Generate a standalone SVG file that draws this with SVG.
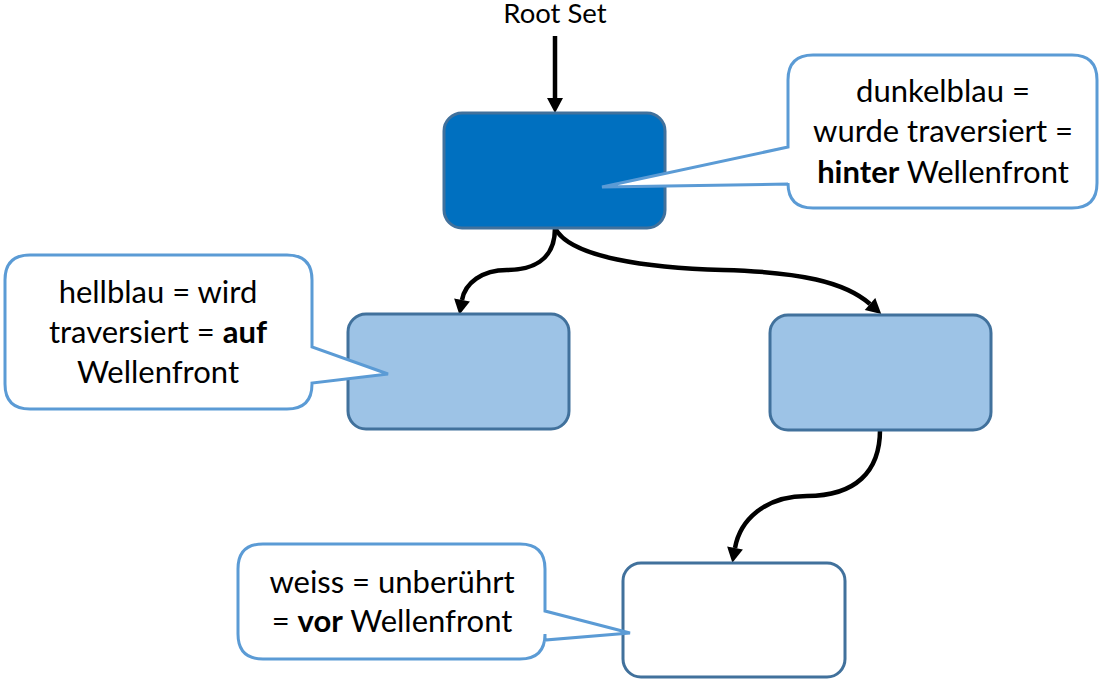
<svg xmlns="http://www.w3.org/2000/svg" width="1099" height="681" viewBox="0 0 1099 681">
<style>
.node{stroke:#41719C;stroke-width:3}
.dark{fill:#0070C0}
.light{fill:#9DC3E6}
.white{fill:#FFFFFF}
.callout{fill:#FFFFFF;stroke:#5B9BD5;stroke-width:3;stroke-linejoin:miter}
.conn{fill:none;stroke:#000000;stroke-width:4.5}
.t{font-family:Lato,"Liberation Sans",sans-serif;font-size:31px;fill:#000000;text-anchor:middle}
.b{font-weight:bold}
</style>
<defs>
<marker id="ah" markerUnits="userSpaceOnUse" markerWidth="16" markerHeight="16" refX="0" refY="8" orient="auto" viewBox="0 0 15 16">
<path d="M0,0 L15,8 L0,16 z" fill="#000000"/>
</marker>
</defs>
<rect width="1099" height="681" fill="#FFFFFF"/>
<g id="connectors">
<path class="conn" d="M555,36 L555,98" marker-end="url(#ah)"/>
<path class="conn" d="M555,228 C555,262 530,270 507,270 C482,270 465,283 462,300" marker-end="url(#ah)"/>
<path class="conn" d="M555,228 C570,258 650,268 723,270 C800,272 845,282 870,304" marker-end="url(#ah)"/>
<path class="conn" d="M880,430 C880,472 855,496 807,496 C765,496 740,520 735,548" marker-end="url(#ah)"/>
</g>
<g id="root-label">
<text class="t" x="555" y="23" style="font-size:27.5px">Root Set</text>
</g>
<g id="node-dark">
<rect class="node dark" x="444" y="113" width="221" height="115" rx="18"/>
</g>
<g id="node-light-left">
<rect class="node light" x="348" y="314" width="221" height="115" rx="18"/>
</g>
<g id="node-light-right">
<rect class="node light" x="770" y="315" width="221" height="115" rx="18"/>
</g>
<g id="node-white">
<rect class="node white" x="623" y="563" width="222" height="114" rx="18"/>
</g>
<g id="callout-dark">
<path class="callout" d="M813,55 H1072 Q1097,55 1097,80 V183 Q1097,208 1072,208 H813 Q788,208 788,183 V184 L602,187 L788,147 V80 Q788,55 813,55 Z"/>
<text class="t" x="943" y="102">dunkelblau =</text>
<text class="t" x="943" y="142">wurde traversiert =</text>
<text class="t" x="943" y="183"><tspan class="b">hinter</tspan> Wellenfront</text>
</g>
<g id="callout-light">
<path class="callout" d="M30,255 H287 Q312,255 312,280 V347 L388,374 L312,383 V384 Q312,409 287,409 H30 Q5,409 5,384 V280 Q5,255 30,255 Z"/>
<text class="t" x="158" y="303">hellblau = wird</text>
<text class="t" x="158" y="343">traversiert = <tspan class="b">auf</tspan></text>
<text class="t" x="158" y="383">Wellenfront</text>
</g>
<g id="callout-white">
<path class="callout" d="M263,544 H520 Q545,544 545,569 V611 L630,633 L545,640 V634 Q545,659 520,659 H263 Q238,659 238,634 V569 Q238,544 263,544 Z"/>
<text class="t" x="392" y="593">weiss = unberührt</text>
<text class="t" x="392" y="632">= <tspan class="b">vor</tspan> Wellenfront</text>
</g>
</svg>
